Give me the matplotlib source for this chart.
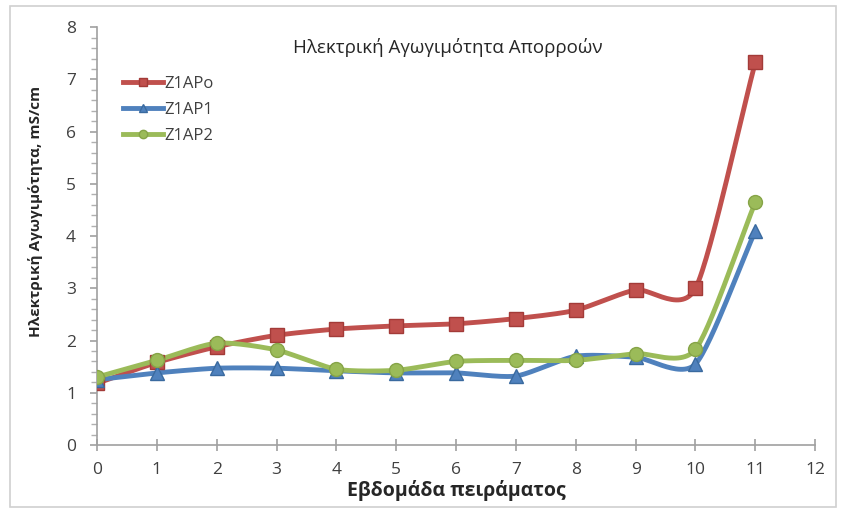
import numpy as np
import matplotlib.pyplot as plt
from matplotlib.ticker import MultipleLocator

weeks = [0, 1, 2, 3, 4, 5, 6, 7, 8, 9, 10, 11]
z1apo = [1.18, 1.58, 1.88, 2.10, 2.22, 2.28, 2.32, 2.42, 2.58, 2.97, 3.00, 7.33]
z1ap1 = [1.25, 1.38, 1.47, 1.47, 1.42, 1.38, 1.38, 1.32, 1.70, 1.68, 1.55, 4.10]
z1ap2 = [1.30, 1.62, 1.95, 1.82, 1.45, 1.43, 1.60, 1.62, 1.62, 1.75, 1.83, 4.65]

series = [
    ('Z1APo', z1apo, '#C0504D', '#A33B38', 's'),
    ('Z1AP1', z1ap1, '#4F81BD', '#3A6A9F', '^'),
    ('Z1AP2', z1ap2, '#9BBB59', '#86A447', 'o'),
]


def smooth(x, y, steps=30, k=0.7):
    """Cardinal spline through the points, like Excel's smoothed line."""
    x = np.asarray(x, float)
    y = np.asarray(y, float)
    px = np.concatenate([[2 * x[0] - x[1]], x, [2 * x[-1] - x[-2]]])
    py = np.concatenate([[2 * y[0] - y[1]], y, [2 * y[-1] - y[-2]]])
    t = np.linspace(0, 1, steps)
    h00 = 2 * t ** 3 - 3 * t ** 2 + 1
    h10 = t ** 3 - 2 * t ** 2 + t
    h01 = -2 * t ** 3 + 3 * t ** 2
    h11 = t ** 3 - t ** 2
    xs, ys = [], []
    for i in range(1, len(px) - 2):
        for arr, out in ((px, xs), (py, ys)):
            p0, p1, p2, p3 = arr[i - 1], arr[i], arr[i + 1], arr[i + 2]
            m1 = k * (p2 - p0) / 2
            m2 = k * (p3 - p1) / 2
            out.extend(h00 * p1 + h10 * m1 + h01 * p2 + h11 * m2)
    return np.array(xs), np.array(ys)


plt.rcParams['font.family'] = ['Open Sans', 'DejaVu Sans']

fig = plt.figure(figsize=(8.43, 5.13), dpi=100)
ax = fig.add_axes([0.115, 0.1326, 0.852, 0.8144])

for name, vals, col, edge, mk in series:
    sx, sy = smooth(weeks, vals)
    ax.plot(sx, sy, color=col, lw=3.5, solid_capstyle='round', zorder=2)
    ax.plot(weeks, vals, linestyle='none', marker=mk, markersize=10,
            color=col, markeredgecolor=edge, zorder=3)
    # legend handle only
    ax.plot([], [], color=col, lw=3.5, marker=mk, markersize=6,
            markeredgecolor=edge, label=name)

ax.set_xlim(0, 12)
ax.set_ylim(0, 8)
ax.xaxis.set_major_locator(MultipleLocator(1))
ax.yaxis.set_major_locator(MultipleLocator(1))
ax.yaxis.set_minor_locator(MultipleLocator(0.2))

for side in ('top', 'right'):
    ax.spines[side].set_visible(False)
for side in ('left', 'bottom'):
    ax.spines[side].set_color('#A0A0A0')
    ax.spines[side].set_linewidth(1.2)

ax.tick_params(axis='both', colors='#A0A0A0', labelcolor='#404040',
               labelsize=12.5, length=5, width=1.2, pad=10)
ax.tick_params(axis='x', direction='inout', length=8, pad=8)
ax.tick_params(axis='y', which='minor', length=4, width=1, colors='#B0B0B0')

ax.set_xlabel('Εβδομάδα πειράματος', fontsize=14, fontweight='bold',
              color='#262626', labelpad=2)
ax.set_ylabel('Ηλεκτρική Αγωγιμότητα, mS/cm', fontsize=11, fontweight='bold',
              color='#262626', labelpad=16)
ax.yaxis.set_label_coords(-0.075, 0.56)

ax.text(0.488, 0.975, 'Ηλεκτρική Αγωγιμότητα Απορροών', transform=ax.transAxes,
        ha='center', va='top', fontsize=13.5, color='#262626')

ax.legend(loc='upper left', bbox_to_anchor=(0.015, 0.92), frameon=False,
          fontsize=12, handlelength=2.4, handletextpad=0.1, labelspacing=0.6,
          labelcolor='#404040')

# outer chart frame
fig.patches.append(plt.Rectangle((0.012, 0.012), 0.98, 0.976,
                                 transform=fig.transFigure, fill=False,
                                 edgecolor='#D0D0D0', lw=1.2))

fig.savefig('out.png', dpi=100)
